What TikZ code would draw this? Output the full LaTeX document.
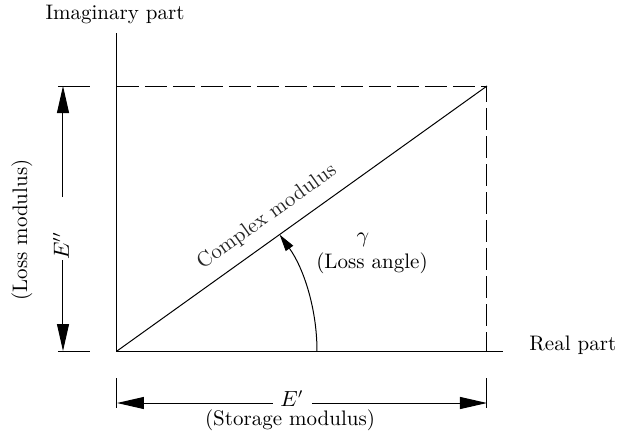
\documentclass[tikz,border=0pt]{standalone}
\usetikzlibrary{arrows.meta}
\begin{document}
\begin{tikzpicture}[x=0.5pt,y=-0.5pt,
  font=\fontsize{10.5}{12.6}\selectfont,
  line width=0.5pt,
  bigtip/.style={-{Triangle[length=13.5pt,width=6pt]}},
  smalltip/.style={-{Triangle[length=8.5pt,width=4.5pt]}},
  dashline/.style={dash pattern=on 11pt off 3pt},
  lbl/.style={inner sep=1pt}]
\useasboundingbox (0,0) rectangle (618,435);
% main points
\coordinate (O) at (117,351);
\coordinate (P) at (487,86);
\coordinate (Ytop) at (117,33);
\coordinate (Xend) at (503,351);
\coordinate (TL) at (117,86);
\coordinate (BR) at (487,351);
% axes
\draw (Ytop) -- (O) -- (Xend);
\draw[dashline] (TL) -- (P) -- (BR);
\draw (O) -- (P);
% labels of axes
\node[lbl] (imag) at (115,14) {Imaginary part};
\node[lbl,anchor=west] (real) at (527,345) {Real part};
% extension lines
\coordinate (e1a) at (58,86);  \coordinate (e1b) at (90,86);
\coordinate (e2a) at (58,351); \coordinate (e2b) at (90,351);
\coordinate (e3a) at (117,378); \coordinate (e3b) at (117,408);
\coordinate (e4a) at (487,378); \coordinate (e4b) at (487,408);
\draw (e1a) -- (e1b);
\draw (e2a) -- (e2b);
\draw (e3a) -- (e3b);
\draw (e4a) -- (e4b);
% E'' dimension
\coordinate (va) at (63,197); \coordinate (vat) at (63,86);
\coordinate (vb) at (63,260); \coordinate (vbt) at (63,351);
\draw[bigtip] (va) -- (vat);
\draw[bigtip] (vb) -- (vbt);
\node[lbl,rotate=90] (Epp) at (61,246) {$E''$};
\node[lbl,rotate=90] (lossmod) at (22,230) {(Loss modulus)};
% E' dimension
\coordinate (ha) at (273,403); \coordinate (hat) at (117,403);
\coordinate (hb) at (312,403); \coordinate (hbt) at (487,403);
\draw[bigtip] (ha) -- (hat);
\draw[bigtip] (hb) -- (hbt);
\node[lbl] (Ep) at (292,399) {$E'$};
\node[lbl] (stormod) at (290,420) {(Storage modulus)};
% complex modulus
\node[lbl,rotate=35.6,text=black!85] (cmod) at (267,217) {Complex modulus};
% angle
\coordinate (A0) at (317,351);
\draw[smalltip] (A0) arc[start angle=0,end angle=-35.6,radius=200];
\node[lbl] (gam) at (363,240) {$\gamma$};
\node[lbl] (lossang) at (372,263) {(Loss angle)};
\end{tikzpicture}
\end{document}
